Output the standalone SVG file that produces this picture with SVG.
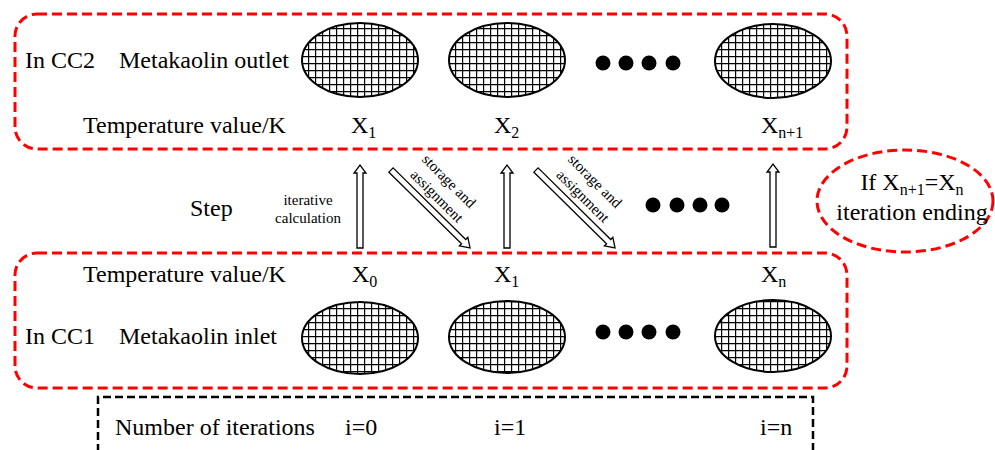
<svg xmlns="http://www.w3.org/2000/svg" width="995" height="450" viewBox="0 0 995 450">
  <defs>
    <pattern id="grid" patternUnits="userSpaceOnUse" width="7" height="7">
      <rect width="7" height="7" fill="#fff"/>
      <path d="M0 0.6 H7 M0.6 0 V7" stroke="#000" stroke-width="1.2" fill="none"/>
    </pattern>
  </defs>
  <style>
    text { font-family: "Liberation Serif", "Times New Roman", serif; fill: #000; }
    .t24 { font-size: 24px; }
    .t15 { font-size: 15px; }
    .sub { font-size: 16px; }
    .redbox { fill: none; stroke: #ff0000; stroke-width: 3; stroke-dasharray: 10 5; }
    .blackbox { fill: none; stroke: #000; stroke-width: 2.5; stroke-dasharray: 8 4; }
    .particle { fill: url(#grid); stroke: #000; stroke-width: 2; }
    .dot { fill: #000; }
    .arrow { fill: #fff; stroke: #000; stroke-width: 1.3; stroke-linejoin: miter; }
  </style>
  <rect width="995" height="450" fill="#fff"/>

  <!-- Outlet (CC2) row -->
  <g id="cc2">
    <rect class="redbox" x="15" y="14" width="832" height="135" rx="22"/>
    <text class="t24" x="25" y="68">In CC2</text>
    <text class="t24" x="119" y="68">Metakaolin outlet</text>
    <text class="t24" x="83" y="133">Temperature value/K</text>
  </g>
  <g id="out1">
    <ellipse class="particle" cx="360" cy="60" rx="58" ry="37"/>
    <text class="t24" x="351" y="133">X<tspan class="sub" dy="5">1</tspan></text>
  </g>
  <g id="out2">
    <ellipse class="particle" cx="507" cy="60" rx="58" ry="37"/>
    <text class="t24" x="494" y="133">X<tspan class="sub" dy="5">2</tspan></text>
  </g>
  <g id="out-dots">
    <circle class="dot" cx="603" cy="63" r="7.5"/>
    <circle class="dot" cx="626" cy="63" r="7.5"/>
    <circle class="dot" cx="649" cy="63" r="7.5"/>
    <circle class="dot" cx="673" cy="63" r="7.5"/>
  </g>
  <g id="outN">
    <ellipse class="particle" cx="773" cy="61" rx="58" ry="37"/>
    <text class="t24" x="761" y="133">X<tspan class="sub" dy="5">n+1</tspan></text>
  </g>

  <!-- Inlet (CC1) row -->
  <g id="cc1">
    <rect class="redbox" x="15" y="253" width="832" height="135" rx="22"/>
    <text class="t24" x="25" y="344">In CC1</text>
    <text class="t24" x="119" y="344">Metakaolin inlet</text>
    <text class="t24" x="83" y="282">Temperature value/K</text>
  </g>
  <g id="in0">
    <ellipse class="particle" cx="360" cy="338" rx="58" ry="36"/>
    <text class="t24" x="352" y="282">X<tspan class="sub" dy="5">0</tspan></text>
  </g>
  <g id="in1">
    <ellipse class="particle" cx="507" cy="337" rx="58" ry="36"/>
    <text class="t24" x="494" y="282">X<tspan class="sub" dy="5">1</tspan></text>
  </g>
  <g id="in-dots">
    <circle class="dot" cx="603" cy="332" r="7.5"/>
    <circle class="dot" cx="626" cy="332" r="7.5"/>
    <circle class="dot" cx="649" cy="332" r="7.5"/>
    <circle class="dot" cx="673" cy="332" r="7.5"/>
  </g>
  <g id="inN">
    <ellipse class="particle" cx="773" cy="336" rx="58" ry="36"/>
    <text class="t24" x="761" y="282">X<tspan class="sub" dy="5">n</tspan></text>
  </g>

  <!-- Step row labels -->
  <g id="step">
    <text class="t24" x="190" y="216">Step</text>
    <text class="t15" x="308" y="205" text-anchor="middle">iterative</text>
    <text class="t15" x="308" y="223" text-anchor="middle">calculation</text>
  </g>
  <g id="step-dots">
    <circle class="dot" cx="653" cy="205" r="7.5"/>
    <circle class="dot" cx="677" cy="205" r="7.5"/>
    <circle class="dot" cx="700" cy="205" r="7.5"/>
    <circle class="dot" cx="722" cy="205" r="7.5"/>
  </g>

  <!-- Stop criterion -->
  <g id="criterion">
    <ellipse class="redbox" cx="905" cy="201" rx="88" ry="51"/>
    <text class="t24" x="912" y="190" text-anchor="middle">If X<tspan class="sub" dy="5">n+1</tspan><tspan dy="-5">=X</tspan><tspan class="sub" dy="5">n</tspan></text>
    <text class="t24" x="912" y="220" text-anchor="middle">iteration ending</text>
  </g>

  <!-- Iteration counter -->
  <g id="iterations">
    <path class="blackbox" d="M98 452 V397 H813 V452"/>
    <text class="t24" x="115" y="435">Number of iterations</text>
    <text class="t24" x="345" y="435">i=0</text>
    <text class="t24" x="494" y="435">i=1</text>
    <text class="t24" x="760" y="435">i=n</text>
  </g>

  <!-- Connectors: hollow block arrows -->
  <g id="connectors">
    <polygon class="arrow" points="357,248 357,173 354,173 360,165 366,173 363,173 363,248"/>
    <polygon class="arrow" points="504,248 504,173 501,173 507,165 513,173 510,173 510,248"/>
    <polygon class="arrow" points="770,247 770,172 767,172 773,164 779,172 776,172 776,247"/>
    <polygon class="arrow" transform="translate(391,170) rotate(44.6)" points="0,-3 102,-3 102,-6 111,0 102,6 102,3 0,3"/>
    <polygon class="arrow" transform="translate(536,170) rotate(44.6)" points="0,-3 102,-3 102,-6 111,0 102,6 102,3 0,3"/>
    <g transform="translate(449,181) rotate(45)">
      <text class="t15" x="0" y="5" text-anchor="middle">storage and</text>
    </g>
    <g transform="translate(437,196) rotate(45)">
      <text class="t15" x="0" y="5" text-anchor="middle">assignment</text>
    </g>
    <g transform="translate(595,181) rotate(45)">
      <text class="t15" x="0" y="5" text-anchor="middle">storage and</text>
    </g>
    <g transform="translate(583,196) rotate(45)">
      <text class="t15" x="0" y="5" text-anchor="middle">assignment</text>
    </g>
  </g>
</svg>
